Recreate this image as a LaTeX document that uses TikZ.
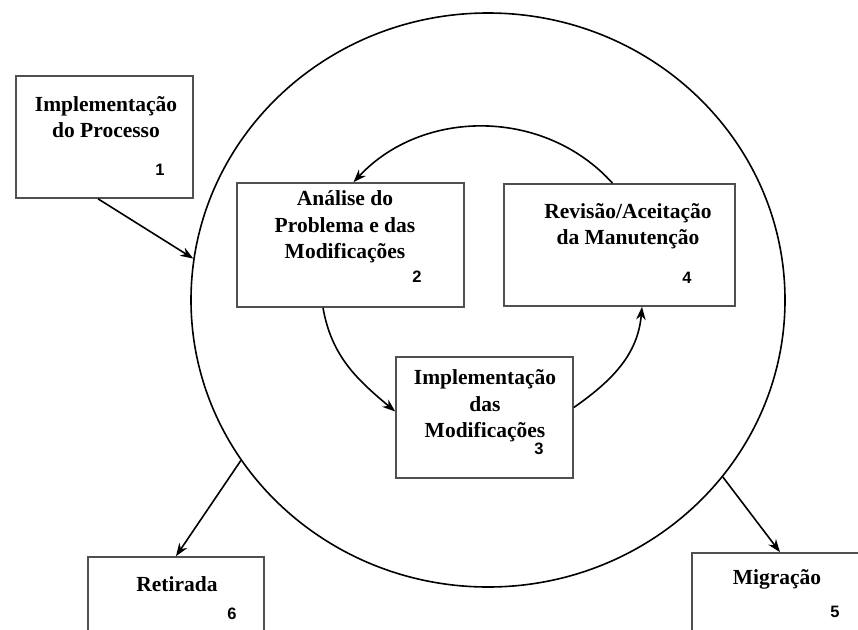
\documentclass[tikz,border=0pt]{standalone}
\usepackage{fontspec}
\setmainfont{Liberation Serif}
\newfontfamily\numfont{Liberation Sans}
\usetikzlibrary{arrows.meta,shapes.geometric}
\definecolor{boxgray}{RGB}{80,80,80}
\begin{document}
\begin{tikzpicture}[x=1pt,y=-1pt,
  stage/.style={draw=boxgray, line width=1.6pt, rectangle, inner sep=0pt, fill=white},
  title/.style={font=\fontsize{21.5}{26.5}\selectfont\bfseries, align=center, inner sep=0pt},
  num/.style={font=\numfont\fontsize{16.5}{18}\selectfont\bfseries, inner sep=0pt},
  flow/.style={draw=black, line width=1.6pt, -{Stealth[length=13pt,width=9.5pt]}}]
\clip (0,0) rectangle (858,629);
\fill[white] (0,0) rectangle (858,629);

% outer maintenance cycle
\node[ellipse, draw=black, line width=1.6pt, minimum width=594pt, minimum height=574pt, inner sep=0pt] (ring) at (488,300) {};

% activity boxes
\node[stage, minimum width=177pt, minimum height=122pt] (p1) at (104.5,137) {};
\node[stage, minimum width=227pt, minimum height=124pt] (p2) at (350.5,245) {};
\node[stage, minimum width=231pt, minimum height=122pt] (p4) at (619.5,245) {};
\node[stage, minimum width=177pt, minimum height=121pt] (p3) at (484.5,417.5) {};
\node[stage, minimum width=176pt, minimum height=102pt] (p6) at (176,608) {};
\node[stage, minimum width=176pt, minimum height=106pt] (p5) at (780,606) {};

% titles
\node[title] (t1) at (106,117) {Implementação\\do Processo};
\node[title] (t2) at (345,227) {Análise do\\Problema e das\\Modificações};
\node[title] (t4) at (628,226) {Revisão/Aceitação\\da Manutenção};
\node[title] (t3) at (485,406) {Implementação\\das\\Modificações};
\node[title] (t6) at (177,584) {Retirada};
\node[title] (t5) at (777,579) {Migração};

% activity numbers
\node[num] (n1) at (160,170) {1};
\node[num] (n2) at (417,277) {2};
\node[num] (n4) at (687,278) {4};
\node[num] (n3) at (539,449) {3};
\node[num] (n6) at (232,614) {6};
\node[num] (n5) at (835,612) {5};

% connectors
\draw[flow] ([xshift=-6.5pt]p1.south) -- (ring.172.9);
\draw[flow] (ring.213.2) -- (p6.north);
\draw[flow] (ring.-37.7) -- (p5.north);
\draw[flow] ([xshift=-7pt]p4.north) to[out=132,in=47] ([xshift=3pt]p2.north);
\draw[flow] ([xshift=-27.5pt]p2.south) to[out=-80,in=140] ([yshift=6pt]p3.west);
\draw[flow] ([yshift=10pt]p3.east) to[out=35,in=-95] ([xshift=22.5pt]p4.south);
\end{tikzpicture}
\end{document}
